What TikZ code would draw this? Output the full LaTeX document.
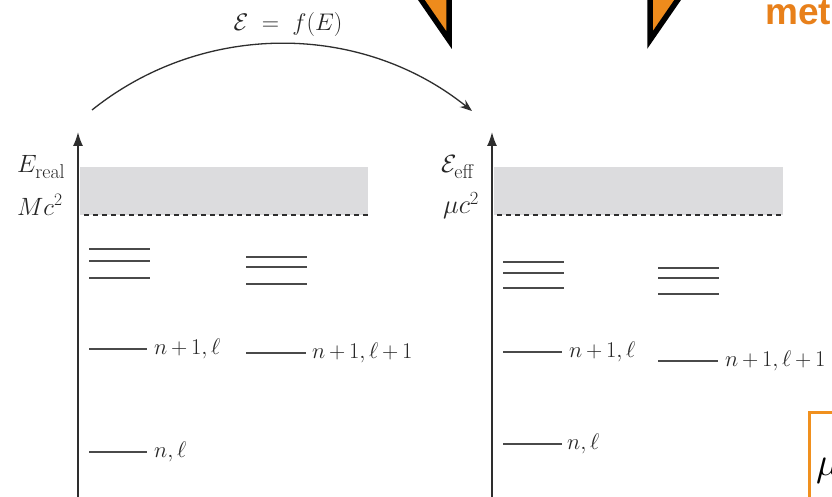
\RequirePackage{fix-cm}
\documentclass[tikz,border=0pt]{standalone}
\usepackage{fontspec}
\newfontfamily\metfont{Liberation Sans}
\usetikzlibrary{arrows.meta}
\definecolor{bandgray}{HTML}{DCDCDE}
\definecolor{axisgray}{HTML}{2E2E2E}
\definecolor{levelgray}{HTML}{4A4A4A}
\definecolor{textgray}{HTML}{262626}
\definecolor{triorange}{HTML}{EE8B1C}
\definecolor{metorange}{HTML}{E8801A}
\definecolor{boxorange}{HTML}{F0901E}
\newcommand{\mytightmath}{\medmuskip=3mu\relax\thinmuskip=3mu\relax}
\newcommand{\mysub}[1]{\mbox{\fontsize{20}{20}\selectfont #1}}
\begin{document}
\begin{tikzpicture}[x=1pt,y=-1pt,
  lvl/.style={draw=levelgray,line width=1.8pt},
  lab/.style={anchor=west,inner sep=0pt,font=\fontsize{22.5}{26}\selectfont\mytightmath,text=textgray},
  axlab/.style={anchor=base west,inner sep=0pt,font=\fontsize{25}{30}\selectfont,text=textgray},
  axisline/.style={-{Latex[length=14pt,width=10pt]},line width=1.6pt,draw=axisgray},
  band/.style={fill=bandgray,draw=none},
  dashln/.style={dash pattern=on 5pt off 4pt,line width=1.2pt,draw=axisgray},
  tri/.style={fill=triorange,draw=black,line width=5.5pt,line join=miter},
]
\useasboundingbox (0,0) rectangle (832,497);
\clip (0,0) rectangle (832,497);
\fill[white] (0,0) rectangle (832,497);

% bands
\fill[band] (80,167) rectangle (368,215);
\draw[dashln] (84,215) -- (368,215);
\fill[band] (494,167) rectangle (783,215);
\draw[dashln] (497,215) -- (783,215);

% axes
\coordinate (lb) at (78,505);
\coordinate (lt) at (78,132);
\coordinate (rb) at (492,505);
\coordinate (rt) at (492,132);
\draw[axisline] (lb) -- (lt);
\draw[axisline] (rb) -- (rt);

% axis labels
\node[axlab] (ereal) at (17,173) {$E_{\mysub{real}}$};
\node[axlab] (mc) at (17,215) {$Mc^2$};
\node[axlab] (eeff) at (441,173) {$\mathcal{E}_{\mysub{eff}}$};
\node[axlab,font=\fontsize{26.5}{30}\selectfont] (muc) at (443,214) {$\mu c^2$};

% left upper levels
\draw[lvl] (89,249) -- (150,249);
\draw[lvl] (89,261) -- (150,261);
\draw[lvl] (89,278) -- (150,278);
\draw[lvl] (246,257) -- (307,257);
\draw[lvl] (246,267) -- (307,267);
\draw[lvl] (246,284) -- (307,284);

% right upper levels
\draw[lvl] (503,262) -- (564,262);
\draw[lvl] (503,273) -- (564,273);
\draw[lvl] (503,288) -- (564,288);
\draw[lvl] (658,268) -- (719,268);
\draw[lvl] (658,278) -- (719,278);
\draw[lvl] (658,294) -- (719,294);

% left lower levels
\draw[lvl] (89,349) -- (147,349);
\node[lab] (lA) at (154,349) {$n+1,\ell$};
\draw[lvl] (246,353) -- (306,353);
\node[lab] (lB) at (312,353) {$n+1,\ell+1$};
\draw[lvl] (89,452) -- (147,452);
\node[lab] (lC) at (154,452) {$n,\ell$};

% right lower levels
\draw[lvl] (503,352) -- (562,352);
\node[lab] (rA) at (569,352) {$n+1,\ell$};
\draw[lvl] (658,361) -- (718,361);
\node[lab] (rB) at (725,361) {$n+1,\ell+1$};
\draw[lvl] (503,444) -- (562,444);
\node[lab] (rC) at (567,444) {$n,\ell$};

% mapping arc
\coordinate (as) at (92,110);
\coordinate (ae) at (472,111);
\draw[-{Stealth[length=12pt,width=9pt]},line width=1.3pt,draw=axisgray]
  (as) .. controls (203,21) and (361,22) .. (ae);
\node[inner sep=0pt,font=\fontsize{24}{28}\selectfont,text=textgray] (fmap) at (288,25) {$\mathcal{E}\;=\;f(E)$};

% orange triangles (cropped)
\draw[tri] (420,-2) -- (449,40) -- (449,-20) -- (400,-20) -- cycle;
\draw[tri] (679,-2) -- (650,40) -- (650,-20) -- (700,-20) -- cycle;

% orange title fragment
\node[anchor=base west,inner sep=0pt,text=metorange,font=\metfont\bfseries\fontsize{37}{37}\selectfont] (met) at (765,25) {met};

% orange box fragment
\draw[draw=boxorange,line width=3pt] (809,412) rectangle (900,560);
\node[anchor=base west,inner sep=0pt,font=\fontsize{40}{44}\selectfont] (mu) at (816,475) {$\mu$};
\end{tikzpicture}
\end{document}
